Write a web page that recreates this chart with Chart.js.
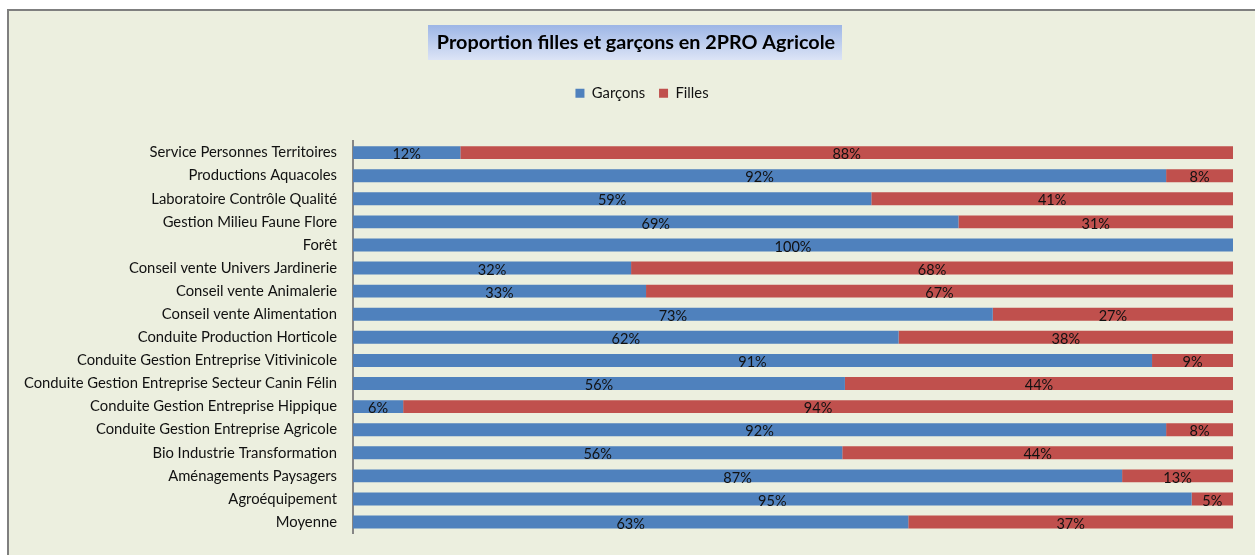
<!DOCTYPE html>
<html>
<head>
<meta charset="utf-8">
<script src="https://cdn.jsdelivr.net/npm/chart.js@4/dist/chart.umd.min.js"></script>
<style>
  html, body { margin: 0; padding: 0; background: #ffffff; }
  #wrap { width: 1255px; height: 555px; }
</style>
</head>
<body>
<div id="wrap"><canvas id="c" width="1255" height="555"></canvas></div>
<script>
const categories = [
  "Service Personnes Territoires",
  "Productions Aquacoles",
  "Laboratoire Contrôle Qualité",
  "Gestion Milieu Faune Flore",
  "Forêt",
  "Conseil vente Univers Jardinerie",
  "Conseil vente Animalerie",
  "Conseil vente Alimentation",
  "Conduite Production Horticole",
  "Conduite Gestion Entreprise Vitivinicole",
  "Conduite Gestion Entreprise Secteur Canin Félin",
  "Conduite Gestion Entreprise Hippique",
  "Conduite Gestion Entreprise Agricole",
  "Bio Industrie Transformation",
  "Aménagements Paysagers",
  "Agroéquipement",
  "Moyenne"
];
const garcons = [12.2, 92.4, 58.9, 68.8, 100, 31.6, 33.3, 72.7, 62.0, 90.8, 55.9, 5.7, 92.4, 55.6, 87.4, 95.3, 63.1];
const filles  = [87.8, 7.6, 41.1, 31.2, 0, 68.4, 66.7, 27.3, 38.0, 9.2, 44.1, 94.3, 7.6, 44.4, 12.6, 4.7, 36.9];
const seriesNames = ["Garçons", "Filles"];
const titleText = "Proportion filles et garçons en 2PRO Agricole";

const FONT = "Lato, 'Open Sans', sans-serif";

const framePlugin = {
  id: 'frame',
  afterLayout(chart) {
    if (chart.titleBlock) { chart.titleBlock.left += 8.5; chart.titleBlock.right += 8.5; }
    if (chart.legend) { chart.legend.left += 14.5; chart.legend.right += 14.5; }
  },
  beforeDraw(chart) {
    const ctx = chart.ctx;
    ctx.save();
    ctx.fillStyle = '#ffffff';
    ctx.fillRect(0, 0, chart.width, chart.height);
    ctx.fillStyle = '#ECEFDF';
    ctx.fillRect(8, 10, chart.width - 8, chart.height - 10);
    ctx.strokeStyle = '#7f7f7f';
    ctx.lineWidth = 2;
    ctx.beginPath();
    ctx.moveTo(8, chart.height);
    ctx.lineTo(8, 10);
    ctx.lineTo(chart.width, 10);
    ctx.stroke();
    // title box
    const grad = ctx.createLinearGradient(0, 25, 0, 60);
    grad.addColorStop(0, '#9DB6E6');
    grad.addColorStop(1, '#DCE4F6');
    ctx.fillStyle = grad;
    ctx.fillRect(428, 25, 414, 35);
    ctx.restore();
  }
};

const labelPlugin = {
  id: 'segLabels',
  afterDatasetsDraw(chart) {
    const ctx = chart.ctx;
    ctx.save();
    ctx.font = "14.5px " + FONT;
    ctx.fillStyle = '#111111';
    ctx.textAlign = 'center';
    ctx.textBaseline = 'middle';
    chart.data.datasets.forEach((ds, di) => {
      const meta = chart.getDatasetMeta(di);
      meta.data.forEach((bar, i) => {
        const v = ds.data[i];
        if (!v) return;
        const x = (bar.x + bar.base) / 2;
        ctx.fillText(Math.round(v) + '%', x, bar.y + 2);
      });
    });
    ctx.restore();
  }
};

new Chart(document.getElementById('c'), {
  type: 'bar',
  data: {
    labels: categories,
    datasets: [
      { label: seriesNames[0], data: garcons, backgroundColor: '#4F81BD', borderWidth: 0 },
      { label: seriesNames[1], data: filles, backgroundColor: '#C0504D', borderWidth: 0 }
    ]
  },
  options: {
    indexAxis: 'y',
    responsive: false,
    animation: false,
    devicePixelRatio: 1,
    layout: { padding: { left: 22, right: 22, top: 0, bottom: 21.4 } },
    datasets: { bar: { barPercentage: 1, categoryPercentage: 0.56 } },
    scales: {
      x: {
        stacked: true, min: 0, max: 100, position: 'top',
        grid: { display: false, drawTicks: false },
        border: { display: false },
        ticks: { display: false },
        afterFit(scale) { scale.height = 30.5; }
      },
      y: {
        stacked: true,
        grid: { display: false, drawTicks: false },
        border: { display: true, color: '#868686', width: 2 },
        ticks: { color: '#111111', font: { family: FONT, size: 14.8 }, padding: 16, autoSkip: false },
        afterFit(scale) { scale.width = 331; scale.paddingTop = 0; scale.paddingBottom = 0; }
      }
    },
    plugins: {
      tooltip: { enabled: false },
      title: {
        display: true, text: titleText, color: '#000000',
        font: { family: FONT, size: 19.8, weight: 'bold' },
        padding: { top: 31, bottom: 17 }
      },
      legend: {
        display: true, position: 'top',
        labels: { boxWidth: 9, boxHeight: 9, padding: 14, color: '#111111', font: { family: FONT, size: 14.8 } }
      }
    }
  },
  plugins: [framePlugin, labelPlugin]
});
</script>
</body>
</html>
